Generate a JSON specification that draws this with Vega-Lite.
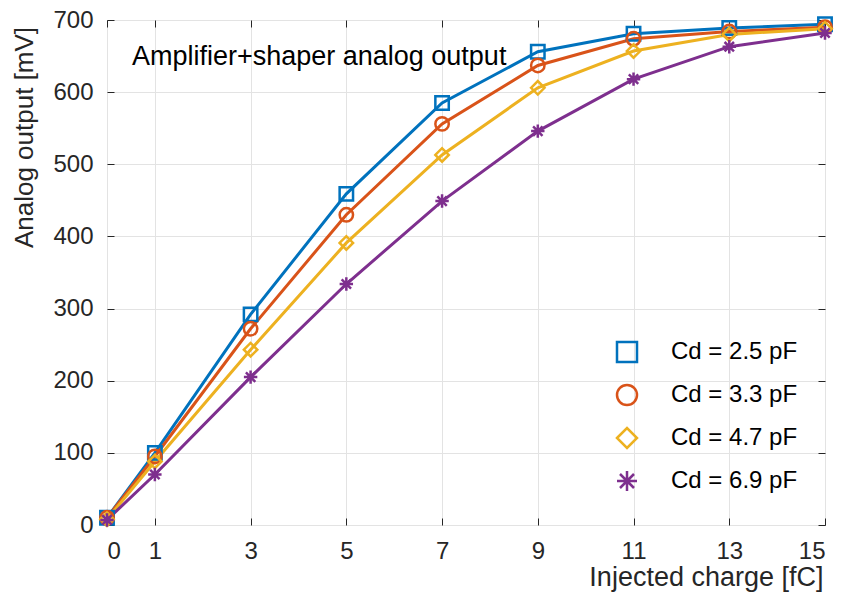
{
  "$schema": "https://vega.github.io/schema/vega-lite/v6.json",
  "width": 718,
  "height": 505,
  "autosize": "none",
  "padding": {"left": 107, "top": 20, "right": 19, "bottom": 73},
  "background": "white",
  "config": {
    "font": "Liberation Sans",
    "view": {"stroke": "#262626", "strokeWidth": 1},
    "axis": {"labelFont": "Liberation Sans", "titleFont": "Liberation Sans", "labelColor": "#262626", "titleColor": "#262626", "titleFontWeight": "normal", "domainColor": "#262626", "tickColor": "#262626", "gridColor": "#e3e3e3", "gridWidth": 1}
  },
  "datasets": {
    "main": [
      {"q": 0, "v": 10, "cd": "Cd = 2.5 pF"},
      {"q": 1, "v": 100, "cd": "Cd = 2.5 pF"},
      {"q": 3, "v": 292, "cd": "Cd = 2.5 pF"},
      {"q": 5, "v": 459, "cd": "Cd = 2.5 pF"},
      {"q": 7, "v": 585, "cd": "Cd = 2.5 pF"},
      {"q": 9, "v": 656, "cd": "Cd = 2.5 pF"},
      {"q": 11, "v": 681, "cd": "Cd = 2.5 pF"},
      {"q": 13, "v": 689, "cd": "Cd = 2.5 pF"},
      {"q": 15, "v": 694, "cd": "Cd = 2.5 pF"},
      {"q": 0, "v": 10, "cd": "Cd = 3.3 pF"},
      {"q": 1, "v": 95, "cd": "Cd = 3.3 pF"},
      {"q": 3, "v": 272, "cd": "Cd = 3.3 pF"},
      {"q": 5, "v": 430, "cd": "Cd = 3.3 pF"},
      {"q": 7, "v": 556, "cd": "Cd = 3.3 pF"},
      {"q": 9, "v": 637, "cd": "Cd = 3.3 pF"},
      {"q": 11, "v": 674, "cd": "Cd = 3.3 pF"},
      {"q": 13, "v": 684, "cd": "Cd = 3.3 pF"},
      {"q": 15, "v": 690, "cd": "Cd = 3.3 pF"},
      {"q": 0, "v": 8, "cd": "Cd = 4.7 pF"},
      {"q": 1, "v": 88, "cd": "Cd = 4.7 pF"},
      {"q": 3, "v": 243, "cd": "Cd = 4.7 pF"},
      {"q": 5, "v": 391, "cd": "Cd = 4.7 pF"},
      {"q": 7, "v": 513, "cd": "Cd = 4.7 pF"},
      {"q": 9, "v": 606, "cd": "Cd = 4.7 pF"},
      {"q": 11, "v": 657, "cd": "Cd = 4.7 pF"},
      {"q": 13, "v": 680, "cd": "Cd = 4.7 pF"},
      {"q": 15, "v": 688, "cd": "Cd = 4.7 pF"},
      {"q": 0, "v": 7, "cd": "Cd = 6.9 pF"},
      {"q": 1, "v": 70, "cd": "Cd = 6.9 pF"},
      {"q": 3, "v": 205, "cd": "Cd = 6.9 pF"},
      {"q": 5, "v": 334, "cd": "Cd = 6.9 pF"},
      {"q": 7, "v": 449, "cd": "Cd = 6.9 pF"},
      {"q": 9, "v": 546, "cd": "Cd = 6.9 pF"},
      {"q": 11, "v": 618, "cd": "Cd = 6.9 pF"},
      {"q": 13, "v": 663, "cd": "Cd = 6.9 pF"},
      {"q": 15, "v": 682, "cd": "Cd = 6.9 pF"}
    ],
    "note": [{"x": 0.52, "y": 637, "label": "Amplifier+shaper analog output"}]
  },
  "layer": [
    {
      "data": {"name": "main"},
      "mark": {"type": "line", "strokeWidth": 3},
      "encoding": {
        "x": {"field": "q", "type": "quantitative", "scale": {"domain": [0, 15], "nice": false},
          "axis": {"orient": "bottom", "values": [0, 1, 3, 5, 7, 9, 11, 13, 15], "title": "Injected charge [fC]", "titleFontSize": 27, "labelFontSize": 24, "tickSize": -7, "labelPadding": 21, "domain": false, "grid": true, "titleAnchor": "end", "titleAlign": "right", "titleX": 716, "titleY": 60, "titleBaseline": "alphabetic"}},
        "y": {"field": "v", "type": "quantitative", "scale": {"domain": [0, 700], "nice": false},
          "axis": {"orient": "left", "values": [0, 100, 200, 300, 400, 500, 600, 700], "title": "Analog output [mV]", "titleFontSize": 26, "labelFontSize": 24, "tickSize": -7, "labelPadding": 21, "domain": false, "grid": true, "titleAngle": -90, "titleX": -75, "titleY": 117, "titleAlign": "center", "titleBaseline": "alphabetic"}},
        "color": {"field": "cd", "type": "nominal",
          "scale": {"domain": ["Cd = 2.5 pF", "Cd = 3.3 pF", "Cd = 4.7 pF", "Cd = 6.9 pF"], "range": ["#0072BD", "#D95319", "#EDB120", "#7E2F8E"]}},
        "order": {"field": "q", "type": "quantitative"}
      }
    },
    {
      "data": {"name": "main"},
      "mark": {"type": "point", "filled": false, "strokeWidth": 2.5, "opacity": 1},
      "encoding": {
        "x": {"field": "q", "type": "quantitative",
          "axis": {"orient": "top", "values": [0, 1, 3, 5, 7, 9, 11, 13, 15], "labels": false, "title": null, "tickSize": -7, "domain": false, "grid": false}},
        "y": {"field": "v", "type": "quantitative",
          "axis": {"orient": "right", "values": [0, 100, 200, 300, 400, 500, 600, 700], "labels": false, "title": null, "tickSize": -7, "domain": false, "grid": false}},
        "color": {"field": "cd", "type": "nominal",
          "scale": {"domain": ["Cd = 2.5 pF", "Cd = 3.3 pF", "Cd = 4.7 pF", "Cd = 6.9 pF"], "range": ["#0072BD", "#D95319", "#EDB120", "#7E2F8E"]},
          "legend": {"orient": "none", "legendX": 453, "legendY": 320, "title": null, "labelFontSize": 24, "labelColor": "#000000", "labelFont": "Liberation Sans", "symbolSize": 400, "symbolStrokeWidth": 2.5, "symbolOffset": 55, "labelOffset": 32, "rowPadding": 13}},
        "shape": {"field": "cd", "type": "nominal",
          "scale": {"domain": ["Cd = 2.5 pF", "Cd = 3.3 pF", "Cd = 4.7 pF", "Cd = 6.9 pF"], "range": ["square", "circle", "diamond", "M0,-1V1M-1,0H1M-0.7,-0.7L0.7,0.7M-0.7,0.7L0.7,-0.7"]}},
        "size": {"value": 180}
      }
    },
    {
      "data": {"name": "note"},
      "mark": {"type": "text", "align": "left", "baseline": "alphabetic", "fontSize": 27, "font": "Liberation Sans", "color": "#000000"},
      "encoding": {
        "x": {"field": "x", "type": "quantitative", "axis": null},
        "y": {"field": "y", "type": "quantitative", "axis": null},
        "text": {"field": "label"}
      }
    }
  ],
  "resolve": {"axis": {"x": "independent", "y": "independent"}}
}
